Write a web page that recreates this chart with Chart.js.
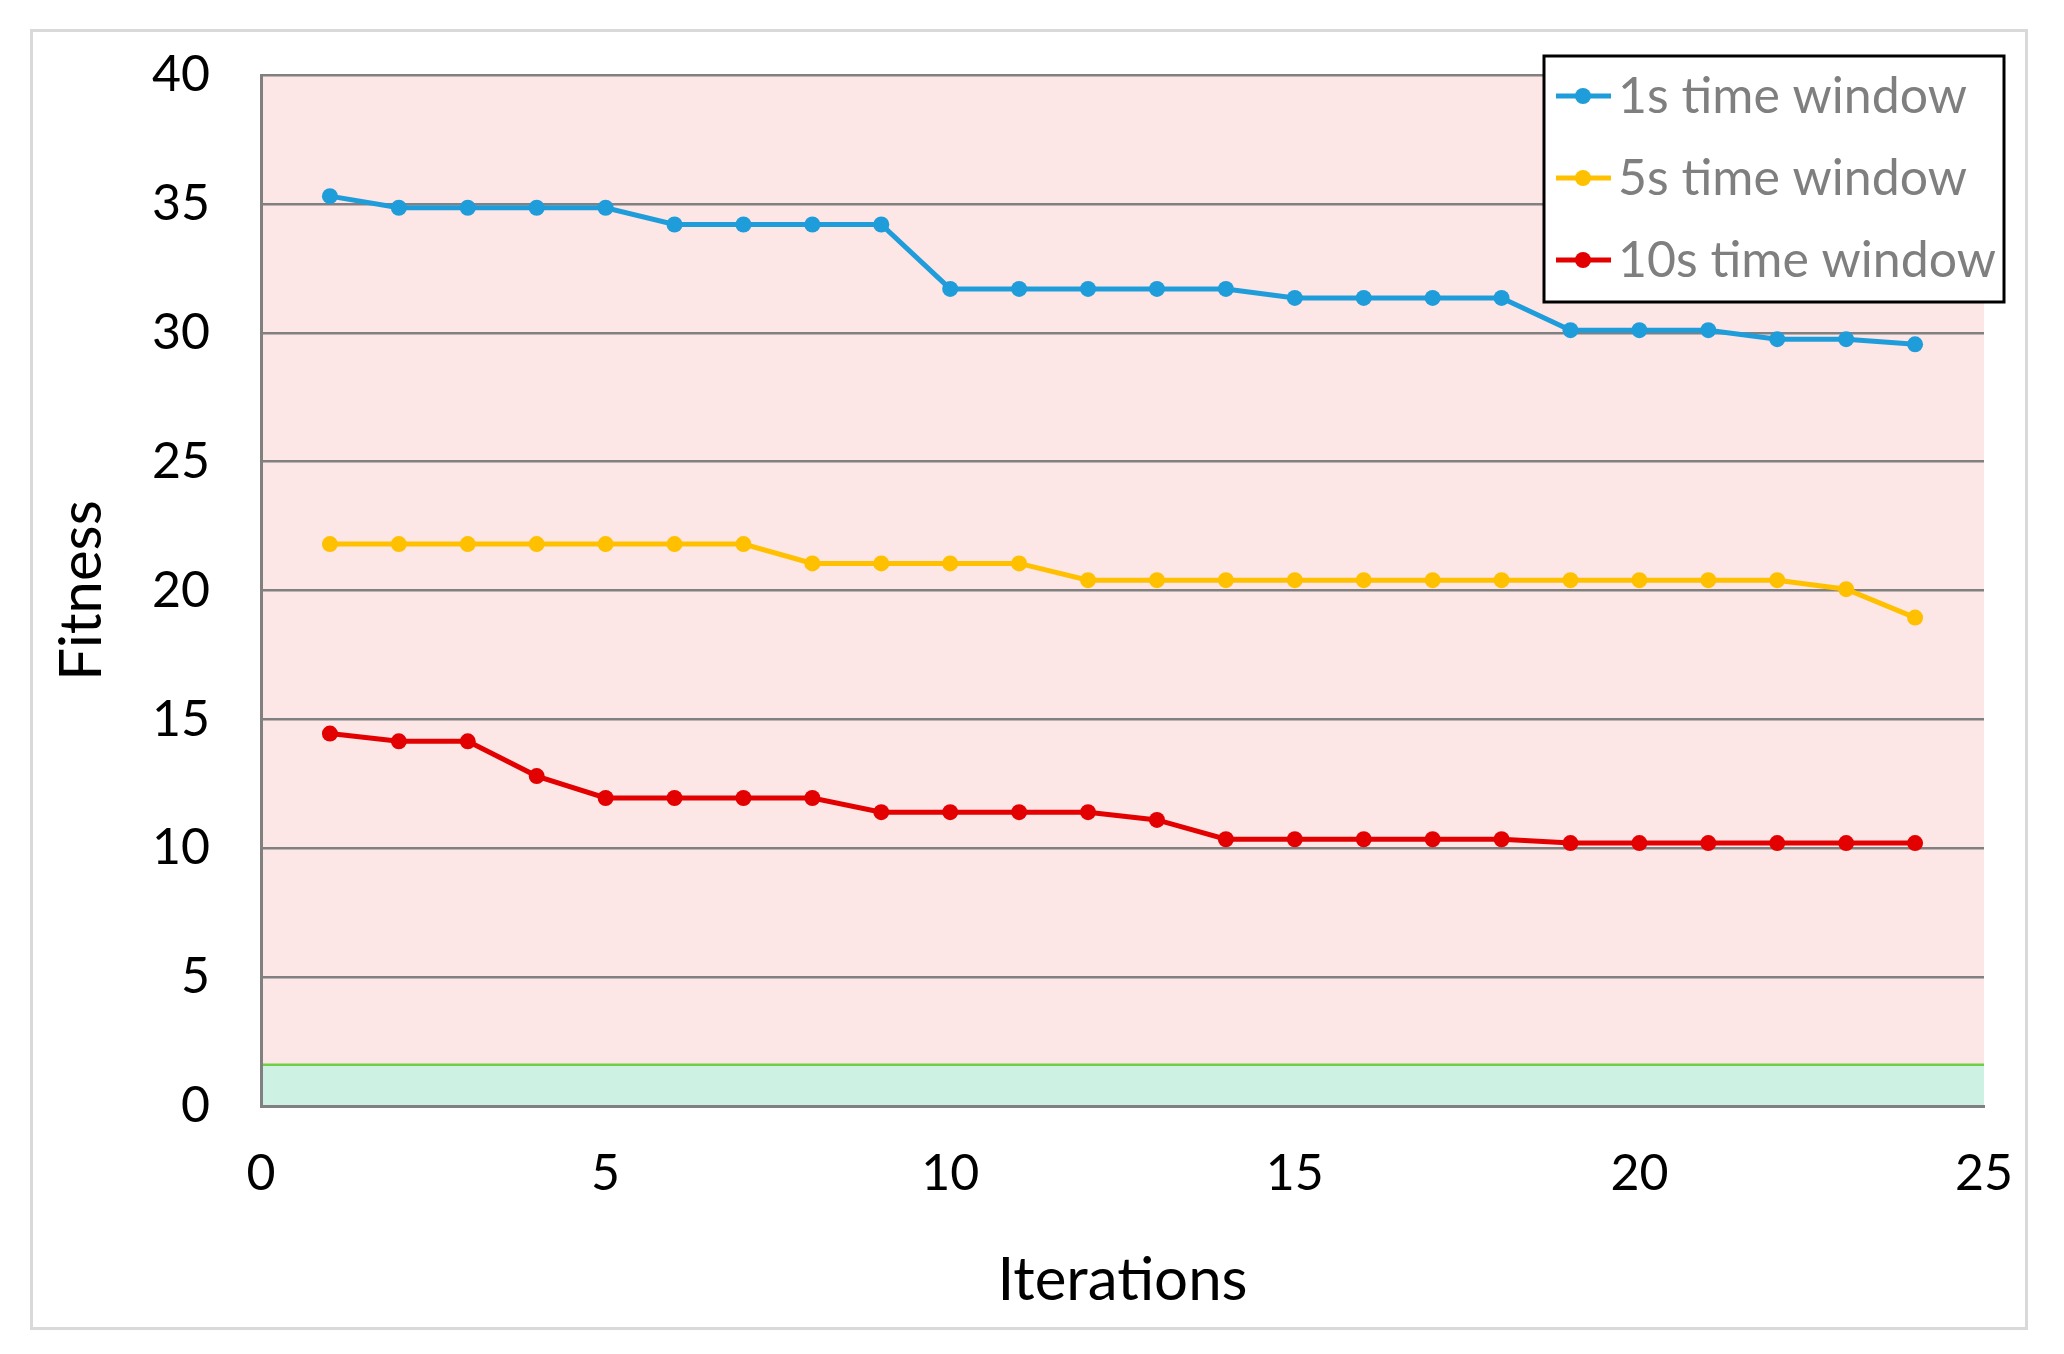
<!DOCTYPE html>
<html>
<head>
<meta charset="utf-8">
<script src="https://cdn.jsdelivr.net/npm/chart.js@4.4.1/dist/chart.umd.min.js"></script>
<style>
    html, body { margin: 0; padding: 0; background: #ffffff; }
    #wrap { width: 2064px; height: 1354px; position: relative; }
</style>
</head>
<body>
<div id="wrap"><canvas id="fitnessChart"></canvas></div>
<script>
    // values
    let iterations = [1, 2, 3, 4, 5, 6, 7, 8, 9, 10, 11, 12, 13, 14, 15, 16, 17, 18, 19, 20, 21, 22, 23, 24];
    let fitness1s = [35.3, 34.85, 34.85, 34.85, 34.85, 34.2, 34.2, 34.2, 34.2, 31.7, 31.7, 31.7, 31.7, 31.7, 31.35, 31.35, 31.35, 31.35, 30.1, 30.1, 30.1, 29.75, 29.75, 29.55];
    let fitness5s = [21.8, 21.8, 21.8, 21.8, 21.8, 21.8, 21.8, 21.05, 21.05, 21.05, 21.05, 20.4, 20.4, 20.4, 20.4, 20.4, 20.4, 20.4, 20.4, 20.4, 20.4, 20.4, 20.05, 18.95];
    let fitness10s = [14.45, 14.15, 14.15, 12.8, 11.95, 11.95, 11.95, 11.95, 11.4, 11.4, 11.4, 11.4, 11.1, 10.35, 10.35, 10.35, 10.35, 10.35, 10.2, 10.2, 10.2, 10.2, 10.2, 10.2];
    let seriesLabels = ['1s time window', '5s time window', '10s time window'];
    let xTicks = [0, 5, 10, 15, 20, 25];
    let yTicks = [0, 5, 10, 15, 20, 25, 30, 35, 40];
    let targetFitness = 1.6;

    let seriesColors = ['#1f9dda', '#ffc000', '#e30000'];
    let fontName = 'Lato, "Open Sans", sans-serif';

    function toPoints(values) {
        return values.map((v, i) => ({ x: iterations[i], y: v }));
    }

    // pink plot area, green target band and the outer frame
    const backgroundPlugin = {
        id: 'bands',
        beforeDraw(chart) {
            const ctx = chart.ctx;
            const area = chart.chartArea;
            const yScale = chart.scales.y;
            ctx.save();
            ctx.fillStyle = '#ffffff';
            ctx.fillRect(0, 0, chart.width, chart.height);
            ctx.strokeStyle = '#d9d9d9';
            ctx.lineWidth = 3;
            ctx.strokeRect(31.5, 30.5, 1995, 1298);

            ctx.fillStyle = '#fde6e6';
            ctx.fillRect(area.left, area.top, area.right - area.left, area.bottom - area.top);

            let yTarget = yScale.getPixelForValue(targetFitness);
            let yZero = yScale.getPixelForValue(0);
            ctx.fillStyle = '#cdf1e2';
            ctx.fillRect(area.left, yTarget, area.right - area.left, yZero - yTarget);
            ctx.strokeStyle = '#70cf47';
            ctx.lineWidth = 2.5;
            ctx.beginPath();
            ctx.moveTo(area.left, yTarget);
            ctx.lineTo(area.right, yTarget);
            ctx.stroke();
            ctx.restore();
        }
    };

    // legend box in the top right corner
    const legendPlugin = {
        id: 'boxLegend',
        afterDraw(chart) {
            const ctx = chart.ctx;
            let boxLeft = 1544, boxTop = 56, boxW = 460, boxH = 246;
            ctx.save();
            ctx.fillStyle = '#ffffff';
            ctx.fillRect(boxLeft, boxTop, boxW, boxH);
            ctx.strokeStyle = '#000000';
            ctx.lineWidth = 3;
            ctx.strokeRect(boxLeft, boxTop, boxW, boxH);

            chart.data.datasets.forEach((ds, i) => {
                let cy = boxTop + 40 + i * 82;
                ctx.strokeStyle = ds.borderColor;
                ctx.lineWidth = 5;
                ctx.beginPath();
                ctx.moveTo(1556, cy);
                ctx.lineTo(1611, cy);
                ctx.stroke();
                ctx.fillStyle = ds.borderColor;
                ctx.beginPath();
                ctx.arc(1583, cy, 8, 0, Math.PI * 2);
                ctx.fill();

                ctx.fillStyle = '#7f7f7f';
                ctx.font = '50px ' + fontName;
                ctx.textAlign = 'left';
                ctx.textBaseline = 'alphabetic';
                ctx.fillText(ds.label, 1618, cy + 17);
            });
            ctx.restore();
        }
    };

    let datasets = [fitness1s, fitness5s, fitness10s].map((vals, i) => ({
        label: seriesLabels[i],
        data: toPoints(vals),
        borderColor: seriesColors[i],
        backgroundColor: seriesColors[i],
        borderWidth: 5,
        pointRadius: 8,
        pointBorderWidth: 0,
        pointBackgroundColor: seriesColors[i],
        tension: 0
    }));

    let ctx = document.getElementById('fitnessChart').getContext('2d');
    window.fitnessChartInstance = new Chart(ctx, {
        type: 'line',
        data: { datasets: datasets },
        options: {
            responsive: true,
            maintainAspectRatio: false,
            devicePixelRatio: 1,
            animation: false,
            layout: { padding: { left: 0, top: 75, right: 80, bottom: 0 } },
            plugins: { legend: { display: false }, tooltip: { enabled: false } },
            scales: {
                x: {
                    type: 'linear',
                    min: xTicks[0],
                    max: xTicks[xTicks.length - 1],
                    afterBuildTicks: (scale) => { scale.ticks = xTicks.map(v => ({ value: v })); },
                    afterFit: (scale) => { scale.height = 248; },
                    grid: { display: false, drawTicks: false },
                    border: { display: true, color: '#808080', width: 3 },
                    ticks: { color: '#000000', padding: 38, font: { family: fontName, size: 50 } },
                    title: {
                        display: true,
                        text: 'Iterations',
                        color: '#000000',
                        font: { family: fontName, size: 60, lineHeight: 1 },
                        padding: { top: 0, bottom: 43 }
                    }
                },
                y: {
                    min: yTicks[0],
                    max: yTicks[yTicks.length - 1],
                    afterBuildTicks: (scale) => { scale.ticks = yTicks.map(v => ({ value: v })); },
                    afterFit: (scale) => {
                        scale.width = 261;
                        scale.paddingTop = 0;
                        scale.paddingBottom = 0;
                    },
                    grid: { color: '#808080', lineWidth: 2.5, drawTicks: false },
                    border: { display: true, color: '#808080', width: 3 },
                    ticks: { color: '#000000', padding: 51, font: { family: fontName, size: 50 } },
                    title: {
                        display: true,
                        text: 'Fitness',
                        color: '#000000',
                        font: { family: fontName, size: 58, lineHeight: 1 },
                        padding: { top: 53, bottom: 0 }
                    }
                }
            }
        },
        plugins: [backgroundPlugin, legendPlugin]
    });
</script>
</body>
</html>
